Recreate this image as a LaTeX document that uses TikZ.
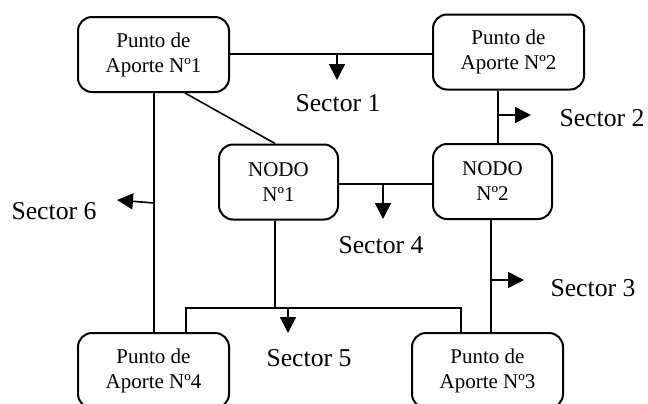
\documentclass[tikz,border=0pt]{standalone}
\usepackage{fontspec}
\setmainfont{Liberation Serif}
\usetikzlibrary{arrows.meta}
\begin{document}
\begin{tikzpicture}[x=0.5pt,y=-0.5pt,
  station/.style={draw, line width=1pt, rounded corners=7pt,
    minimum width=75.5pt, minimum height=37.5pt, align=center,
    font=\fontsize{10.5}{12.5}\selectfont, inner sep=0pt},
  junction/.style={station, minimum width=59.5pt},
  wire/.style={line width=0.8pt},
  feed/.style={wire, -{Triangle[length=8pt,width=8pt]}},
  sectorlabel/.style={font=\fontsize{12.85}{15}\selectfont, inner sep=0pt}]
\clip (0,0) rectangle (648,403);

% supply points and junction nodes
\node[station]  (pa1) at (153.5,54.5) {Punto de\\Aporte Nº1};
\node[station]  (pa2) at (508.5,52)   {Punto de\\Aporte Nº2};
\node[junction] (n1)  at (278.5,182)  {NODO\\Nº1};
\node[junction] (n2)  at (492.5,181.5){NODO\\Nº2};
\node[station]  (pa4) at (153.5,370.5){Punto de\\Aporte Nº4};
\node[station]  (pa3) at (487.5,370.5){Punto de\\Aporte Nº3};

% network lines
\draw[wire] (pa1.east |- 0,54) -- (pa2.west |- 0,54);
\draw[wire] (pa1.south -| 154,0) -- (pa4.north -| 154,0);
\draw[wire] (pa1.south -| 185,0) -- (n1.north -| 275,0);
\draw[wire] (pa2.south -| 498,0) -- (n2.north -| 498,0);
\draw[wire] (n1.east |- 0,184) -- (n2.west |- 0,184);
\coordinate (bl) at (186,308);
\coordinate (br) at (461,308);
\draw[wire] (n1.south -| 275,0) -- (275,308);
\draw[wire] (pa4.north -| bl) -- (bl) -- (br) -- (pa3.north -| br);
\draw[wire] (n2.south -| 491,0) -- (pa3.north -| 491,0);

% sector feeds
\coordinate (f1) at (337,54);
\coordinate (f2) at (498,115);
\coordinate (f3) at (491,280);
\coordinate (f4) at (383,184);
\coordinate (f5) at (288,308);
\coordinate (f6) at (154,203);
\coordinate (t1) at (337,80);
\coordinate (t2) at (531,115);
\coordinate (t3) at (524,280);
\coordinate (t4) at (383,219);
\coordinate (t5) at (288,333);
\coordinate (t6) at (117,200);
\draw[feed] (f1) -- (t1);
\draw[feed] (f2) -- (t2);
\draw[feed] (f3) -- (t3);
\draw[feed] (f4) -- (t4);
\draw[feed] (f5) -- (t5);
\draw[feed] (f6) -- (t6);

% sector labels
\node[sectorlabel] (s1) at (338,103) {Sector 1};
\node[sectorlabel] (s2) at (602,118) {Sector 2};
\node[sectorlabel] (s3) at (593,288) {Sector 3};
\node[sectorlabel] (s4) at (381,245) {Sector 4};
\node[sectorlabel] (s5) at (309,358) {Sector 5};
\node[sectorlabel] (s6) at (54,211)  {Sector 6};
\end{tikzpicture}
\end{document}
